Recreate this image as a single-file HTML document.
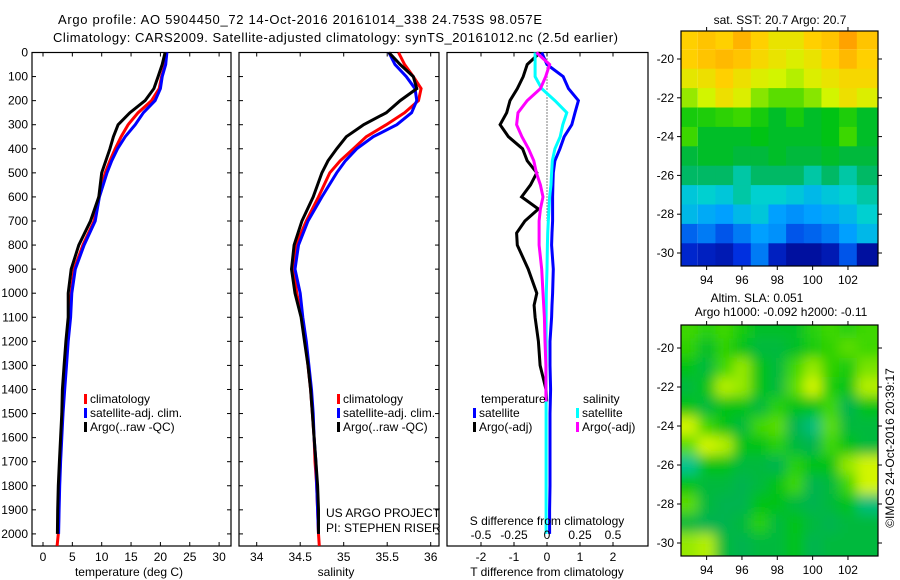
<!DOCTYPE html>
<html><head><meta charset="utf-8"><style>
html,body{margin:0;padding:0;background:#fff}
svg{display:block;font-family:"Liberation Sans",sans-serif;font-size:12px}
</style></head><body>
<svg id="c" width="900" height="580" viewBox="0 0 900 580">
<text x="58" y="24" font-size="13" textLength="484">Argo profile: AO 5904450_72 14-Oct-2016 20161014_338 24.753S 98.057E</text>
<text x="53" y="42" font-size="13" textLength="565">Climatology: CARS2009. Satellite-adjusted climatology: synTS_20161012.nc (2.5d earlier)</text>
<g id="g"></g>
<text x="780" y="24" text-anchor="middle">sat. SST: 20.7 Argo: 20.7</text>
<text x="757" y="302" text-anchor="middle">Altim. SLA: 0.051</text>
<text x="781" y="316" text-anchor="middle">Argo h1000: -0.092 h2000: -0.11</text>
<text transform="translate(894,448) rotate(-90)" text-anchor="middle">©IMOS 24-Oct-2016 20:39:17</text>
<text x="326" y="517">US ARGO PROJECT</text>
<text x="326" y="532">PI: STEPHEN RISER</text>
</svg>
<script>
const depths=[0,50,100,150,200,250,300,350,400,450,500,600,700,800,900,1000,1100,1200,1300,1400,1500,1600,1700,1800,1900,2000,2050];
const tempClim=[21.0,20.8,20.2,19.8,18.5,16.2,14.5,13.3,12.3,11.4,10.6,9.5,8.7,6.8,5.3,4.8,4.5,4.2,3.9,3.6,3.35,3.1,2.95,2.8,2.7,2.6,2.4];
const tempSat=[21.1,20.9,20.3,20.0,19.1,17.1,15.7,14.0,12.7,11.7,10.9,9.6,8.9,7.0,5.5,4.9,4.7,4.3,4.0,3.7,3.4,3.2,3.0,2.85,2.75,2.65,null];
const tempArgo=[20.8,20.3,19.6,18.9,17.4,14.8,12.8,12.0,11.4,10.7,10.0,9.5,8.1,6.1,4.8,4.3,4.3,3.9,3.6,3.3,3.2,3.0,2.8,2.6,2.5,2.45,null];
const salClim=[35.63,35.70,35.80,35.89,35.86,35.70,35.49,35.26,35.11,34.96,34.84,34.71,34.57,34.45,34.43,34.46,34.52,34.56,34.59,34.62,34.64,34.66,34.67,34.69,34.70,34.71,34.72];
const salSat=[35.52,35.59,35.72,35.82,35.84,35.78,35.61,35.34,35.15,35.02,34.92,34.75,34.59,34.48,34.44,34.50,34.53,34.57,34.60,34.63,34.65,34.66,34.68,34.69,34.70,34.71,null];
const salArgo=[35.52,35.65,35.80,35.84,35.65,35.49,35.23,35.03,34.92,34.82,34.75,34.65,34.52,34.43,34.40,34.44,34.51,34.55,34.59,34.62,34.64,34.66,34.68,34.70,34.71,34.71,null];
const diffDepths=[0,50,100,150,200,250,300,350,400,450,500,550,600,650,700,750,800,900,1000,1050,1100,1200,1300,1400,1450,1500,1600,1700,1800,1900,2000];
const dTArgo=[-0.21,-0.6,-0.72,-0.9,-1.12,-1.22,-1.42,-1.17,-0.74,-0.6,-0.31,-0.5,-0.77,-0.26,-0.67,-0.92,-0.9,-0.57,-0.31,-0.39,-0.36,-0.26,-0.21,-0.03,-0.01,null,null,null,null,null,null];
const dTSat=[-0.16,0,0.49,0.65,0.95,0.85,0.75,0.52,0.39,0.24,0.19,0.18,0.17,0.17,0.17,0.15,0.14,0.19,0.17,0.15,0.14,0.09,0.09,0.11,0.1,0.09,0.09,0.09,0.09,0.08,0.08];
const dSSat=[-0.09,-0.09,-0.09,-0.04,0.06,0.15,0.12,0.1,0.06,0.04,0.035,0.03,0.02,0.015,0.01,0.005,0.003,0,-0.005,-0.006,-0.007,-0.007,-0.007,-0.007,-0.007,-0.007,-0.007,-0.007,-0.007,-0.007,-0.007];
const dSArgo=[-0.08,0.02,-0.01,-0.05,-0.15,-0.22,-0.23,-0.19,-0.14,-0.10,-0.08,-0.05,-0.03,-0.05,-0.06,-0.06,-0.06,-0.04,-0.03,-0.025,-0.02,-0.015,-0.008,-0.008,-0.008,null,null,null,null,null,null];
const depthTicks=[0,100,200,300,400,500,600,700,800,900,1000,1100,1200,1300,1400,1500,1600,1700,1800,1900,2000];
const tempTicks=[0,5,10,15,20,25,30];
const salTicks=[34,34.5,35,35.5,36];
const salTickLabels=["34","34.5","35","35.5","36"];
const dTTicks=[-2,-1,0,1,2];
const dSTicks=[-0.5,-0.25,0,0.25,0.5];
const dSTickLabels=["-0.5","-0.25","0","0.25","0.5"];
const latTicks=[-20,-22,-24,-26,-28,-30];
const lonTicks=[94,96,98,100,102];
const sstGrid=[
[0.8,0.82,0.8,0.85,0.8,0.75,0.75,0.8,0.82,0.88,0.82],
[0.8,0.82,0.84,0.82,0.78,0.75,0.72,0.75,0.8,0.84,0.8],
[0.74,0.76,0.8,0.76,0.72,0.7,0.68,0.72,0.75,0.78,0.78],
[0.66,0.7,0.76,0.72,0.65,0.62,0.62,0.65,0.7,0.76,0.72],
[0.55,0.56,0.58,0.6,0.55,0.5,0.55,0.5,0.52,0.56,0.5],
[0.6,0.5,0.5,0.5,0.52,0.5,0.5,0.5,0.52,0.6,0.5],
[0.48,0.5,0.5,0.48,0.48,0.5,0.48,0.48,0.5,0.48,0.48],
[0.45,0.45,0.45,0.42,0.45,0.45,0.45,0.42,0.45,0.42,0.45],
[0.38,0.4,0.38,0.42,0.4,0.4,0.38,0.35,0.38,0.4,0.42],
[0.35,0.32,0.3,0.35,0.38,0.3,0.28,0.3,0.32,0.35,0.4],
[0.22,0.25,0.2,0.25,0.3,0.28,0.2,0.22,0.25,0.3,0.35],
[0.12,0.1,0.08,0.15,0.25,0.1,0.05,0.05,0.08,0.2,0.05]];
const slaGrid=[
[0.6,0.57,0.6,0.55,0.5,0.5,0.5,0.57,0.6,0.57,0.6],
[0.58,0.5,0.58,0.52,0.48,0.48,0.5,0.55,0.58,0.62,0.6],
[0.52,0.48,0.6,0.66,0.52,0.48,0.6,0.66,0.58,0.55,0.64],
[0.48,0.52,0.68,0.66,0.52,0.48,0.62,0.7,0.56,0.52,0.68],
[0.52,0.48,0.52,0.52,0.48,0.57,0.52,0.52,0.6,0.46,0.52],
[0.7,0.6,0.52,0.48,0.6,0.62,0.46,0.44,0.62,0.48,0.48],
[0.62,0.7,0.68,0.52,0.52,0.57,0.48,0.46,0.6,0.52,0.48],
[0.43,0.52,0.52,0.48,0.48,0.46,0.57,0.52,0.52,0.66,0.7],
[0.52,0.48,0.48,0.46,0.48,0.52,0.6,0.46,0.48,0.6,0.7],
[0.62,0.48,0.46,0.46,0.52,0.52,0.48,0.46,0.48,0.52,0.44],
[0.48,0.46,0.46,0.48,0.57,0.48,0.52,0.48,0.46,0.48,0.48],
[0.66,0.68,0.48,0.46,0.48,0.48,0.52,0.46,0.48,0.48,0.48]];

const NS='http://www.w3.org/2000/svg';
const G=document.getElementById('g');
function mk(tag,at,parent){const e=document.createElementNS(NS,tag);for(const k in at)e.setAttribute(k,at[k]);(parent||G).appendChild(e);return e;}
const Y0=52.5, YS=0.2407, YB=546;
const yD=d=>Y0+d*YS;
const xT=v=>43+v*5.87;
const xS=v=>256.7+(v-34)*87;
const xDT=v=>547+v*33;
const xDS=v=>547+v*132;

function panel(name,x0,x1){
  const r=mk('rect',{x:x0,y:Y0,width:x1-x0,height:YB-Y0,fill:'none',stroke:'#000','stroke-width':1.2});
  
  
}
function line(name,xs,ds,vals,fx,color,w){
  let pts=[];
  for(let i=0;i<ds.length;i++){if(vals[i]===null)continue;pts.push(fx(vals[i]).toFixed(1)+','+yD(ds[i]).toFixed(1));}
  const p=mk('polyline',{points:pts.join(' '),fill:'none',stroke:color,'stroke-width':w||3,'stroke-linejoin':'miter'});
  
  
}
function ytick(x0,x1,labels){
  depthTicks.forEach(d=>{
    mk('line',{x1:x0,x2:x0+4,y1:yD(d),y2:yD(d),stroke:'#000'});
    mk('line',{x1:x1-4,x2:x1,y1:yD(d),y2:yD(d),stroke:'#000'});
    if(labels){const t=mk('text',{x:28,y:yD(d)+4,'text-anchor':'end'});t.textContent=d;
      
      }
  });
}
function xtick(vals,labs,fx,ly){
  vals.forEach((v,i)=>{const x=fx(v);
    mk('line',{x1:x,x2:x,y1:YB,y2:YB-4,stroke:'#000'});
    mk('line',{x1:x,x2:x,y1:Y0,y2:Y0+4,stroke:'#000'});
    const t=mk('text',{x:x,y:ly,'text-anchor':'middle'});t.textContent=labs[i];
    
    });
}
function txt(name,x,y,s,anchor){const t=mk('text',{x:x,y:y,'text-anchor':anchor||'start'});t.textContent=s;
  
  return t;}
function legend(name,x,y,color,label){
  const r=mk('rect',{x:x,y:y-9,width:3,height:10,fill:color});
  
  
  txt(name,x+6,y,label);
}

panel('temperature-panel',32,231);
ytick(32,231,true);
xtick(tempTicks,tempTicks.map(String),xT,561);
line('temp-climatology',0,depths,tempClim,xT,'#f00');
line('temp-satellite-adj',0,depths,tempSat,xT,'#00f');
line('temp-argo',0,depths,tempArgo,xT,'#000');
txt('temperature-axis-title',129,576,'temperature (deg C)','middle');
legend('legend-climatology',84,403,'#f00','climatology');
legend('legend-satellite-adj',84,417,'#00f','satellite-adj. clim.');
legend('legend-argo',84,431,'#000','Argo(..raw -QC)');

panel('salinity-panel',239,439);
ytick(239,439,false);
xtick(salTicks,salTickLabels,xS,561);
line('sal-climatology',0,depths,salClim,xS,'#f00');
line('sal-satellite-adj',0,depths,salSat,xS,'#00f');
line('sal-argo',0,depths,salArgo,xS,'#000');
txt('salinity-axis-title',336,576,'salinity','middle');
legend('legend2-climatology',337,403,'#f00','climatology');
legend('legend2-satellite-adj',337,417,'#00f','satellite-adj. clim.');
legend('legend2-argo',337,431,'#000','Argo(..raw -QC)');

panel('difference-panel',447,648);
dTTicks.forEach(v=>{const x=xDT(v);mk('line',{x1:x,x2:x,y1:YB,y2:YB-4,stroke:'#000'});mk('line',{x1:x,x2:x,y1:Y0,y2:Y0+4,stroke:'#000'});
  txt('dt-tick-label',x,561,String(v),'middle');});
mk('line',{x1:547,x2:547,y1:Y0,y2:yD(700),stroke:'#000','stroke-dasharray':'1,2'});
line('dT-argo',0,diffDepths,dTArgo,xDT,'#000');
line('dT-satellite',0,diffDepths,dTSat,xDT,'#00f');
line('dS-satellite',0,diffDepths,dSSat,xDS,'#0ff');
line('dS-argo',0,diffDepths,dSArgo,xDS,'#f0f');
dSTicks.forEach((v,i)=>txt('ds-tick-label',xDS(v),539,dSTickLabels[i],'middle'));
txt('s-diff-axis-title',547,525,'S difference from climatology','middle');
txt('t-diff-axis-title',547,576,'T difference from climatology','middle');
txt('legend-temperature-head',481,403,'temperature');
legend('legend-t-satellite',473,417,'#00f','satellite');
legend('legend-t-argo',473,431,'#000','Argo(-adj)');
txt('legend-salinity-head',583,403,'salinity');
legend('legend-s-satellite',576,417,'#0ff','satellite');
legend('legend-s-argo',576,431,'#f0f','Argo(-adj)');

const stops=[[0,[0,0,127]],[0.15,[0,48,224]],[0.3,[0,160,255]],[0.4,[0,208,208]],[0.46,[0,180,80]],[0.52,[0,195,20]],[0.6,[60,215,0]],[0.7,[210,245,0]],[0.8,[255,208,0]],[0.9,[255,150,0]],[1,[224,80,0]]];
function cmap(v){for(let i=1;i<stops.length;i++){if(v<=stops[i][0]){const a=stops[i-1],b=stops[i],t=(v-a[0])/(b[0]-a[0]);
  return 'rgb('+a[1].map((c,j)=>Math.round(c+(b[1][j]-c)*t)).join(',')+')';}}return 'rgb(224,80,0)';}
function map(name,x0,x1,y0,y1,yLat20,yLat30,grid,blur){
  const lonX=l=>x0+(l-92.55)*(x1-x0)/(103.7-92.55);
  const latY=l=>yLat20+(l+20)*(yLat30-yLat20)/(-10);
  const defs=mk('defs',{});
  const cp=mk('clipPath',{id:name+'-clip'},defs);
  mk('rect',{x:x0,y:y0,width:x1-x0,height:y1-y0},cp);
  if(blur){const f=mk('filter',{id:name+'-blur',x:'-10%',y:'-10%',width:'120%',height:'120%'},defs);mk('feGaussianBlur',{stdDeviation:6},f);}
  const gg=mk('g',{'clip-path':'url(#'+name+'-clip)'});
  const inner=mk('g',blur?{filter:'url(#'+name+'-blur)'}:{},gg);
  grid.forEach((row,r)=>row.forEach((v,c)=>{
    const lon=93+c, lat=-19-r;
    const rc=mk('rect',{x:lonX(lon-0.5)-(c==0?20:0),y:latY(lat+0.5)-(r==0?20:0),width:lonX(lon+0.5)-lonX(lon-0.5)+(c==0||c==row.length-1?20:0.6),height:latY(lat-0.5)-latY(lat+0.5)+(r==0||r==grid.length-1?20:0.6),fill:cmap(v)},inner);
    
    
  }));
  const fr=mk('rect',{x:x0,y:y0,width:x1-x0,height:y1-y0,fill:'none',stroke:'#000','stroke-width':1.2});
  
  
  latTicks.forEach(l=>{const y=latY(l);mk('line',{x1:x0-4,x2:x0,y1:y,y2:y,stroke:'#000'});mk('line',{x1:x1,x2:x1+4,y1:y,y2:y,stroke:'#000'});
    txt(name+'-lat-label',x0-7,y+4,String(l),'end');});
  lonTicks.forEach(l=>{const x=lonX(l);mk('line',{x1:x,x2:x,y1:y1,y2:y1+4,stroke:'#000'});mk('line',{x1:x,x2:x,y1:y0-4,y2:y0,stroke:'#000'});
    txt(name+'-lon-label',x,y1+18,String(l),'middle');});
}
map('sst-map',681,878,31,266,59,253,sstGrid,false);
map('sla-map',681,878,325,556,348,543,slaGrid,true);
</script>
</body></html>
